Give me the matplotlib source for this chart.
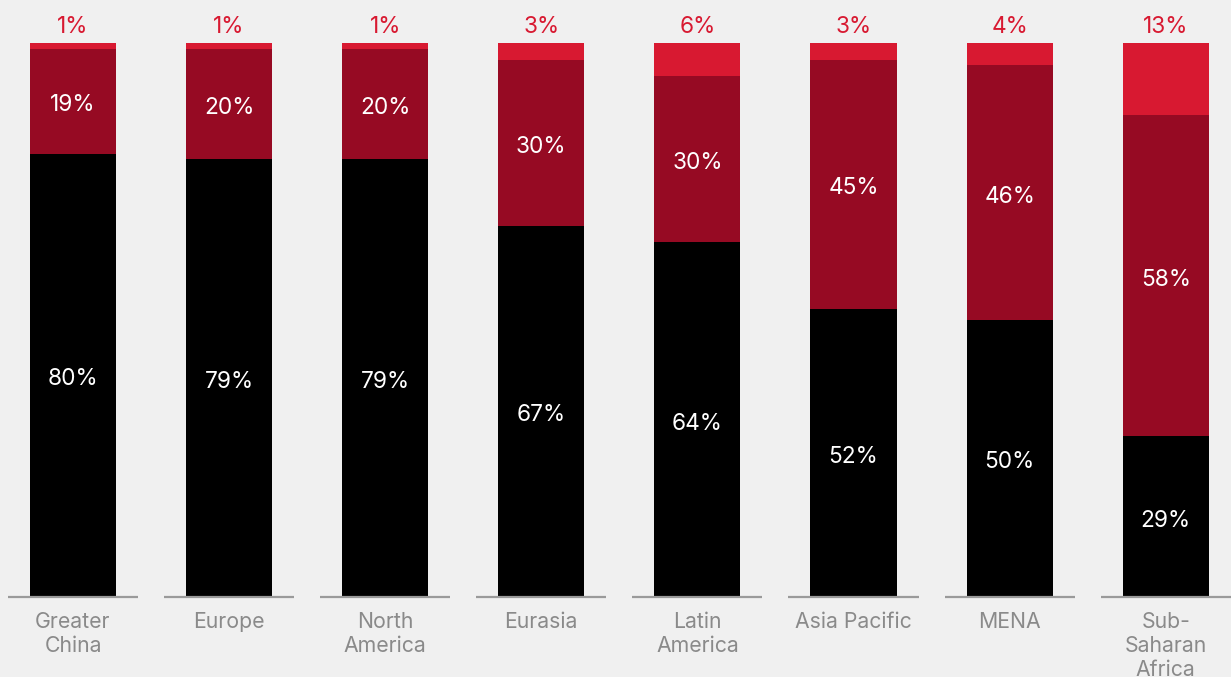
import matplotlib
matplotlib.use("Agg")
import matplotlib.pyplot as plt

plt.rcParams['font.family'] = ['Inter', 'DejaVu Sans']

regions = ["Greater\nChina", "Europe", "North\nAmerica", "Eurasia",
           "Latin\nAmerica", "Asia Pacific", "MENA", "Sub-\nSaharan\nAfrica"]
bottom_share = [80, 79, 79, 67, 64, 52, 50, 29]
middle_share = [19, 20, 20, 30, 30, 45, 46, 58]
top_share = [1, 1, 1, 3, 6, 3, 4, 13]

bg = "#f0f0f0"
c_bottom = "#000000"
c_middle = "#960a23"
c_top = "#d81931"

fig = plt.figure(figsize=(12.31, 6.77), dpi=100, facecolor=bg)
ax = fig.add_axes([0, 1 - 597 / 677, 1, (597 - 43) / 677])
ax.set_facecolor(bg)

x = list(range(len(regions)))
w = 0.551
ax.bar(x, bottom_share, width=w, color=c_bottom)
mid_base = bottom_share
ax.bar(x, middle_share, width=w, bottom=mid_base, color=c_middle)
top_base = [b + m for b, m in zip(bottom_share, middle_share)]
ax.bar(x, top_share, width=w, bottom=top_base, color=c_top)

fs = 16.3
for i in x:
    ax.annotate(f"{bottom_share[i]}%", xy=(i, bottom_share[i] / 2), xytext=(0, -4),
                textcoords='offset pixels', ha='center', va='center',
                color='white', fontsize=fs)
    ax.annotate(f"{middle_share[i]}%", xy=(i, mid_base[i] + middle_share[i] / 2),
                xytext=(0, -4), textcoords='offset pixels', ha='center',
                va='center', color='white', fontsize=fs)
    ax.annotate(f"{top_share[i]}%", xy=(i, top_base[i] + top_share[i]),
                xytext=(0, 16), textcoords='offset pixels', ha='center', va='center',
                color=c_top, fontsize=fs, annotation_clip=False)
    # baseline segment under each bar
    ax.plot([i - 0.4165, i + 0.4165], [0, 0], color="#9a9a9a", lw=1.6,
            solid_capstyle='butt', clip_on=False, zorder=3)
    ax.annotate(regions[i], xy=(i, 0), xytext=(0, -15), textcoords='offset pixels',
                ha='center', va='top', color="#8a8a8a", fontsize=15.3,
                linespacing=1.25, annotation_clip=False)

ax.set_xlim(-73 / 156.1, (1231 - 73) / 156.1)
ax.set_ylim(0, 100)
ax.axis('off')

fig.savefig("out.png", dpi=100, facecolor=bg)
